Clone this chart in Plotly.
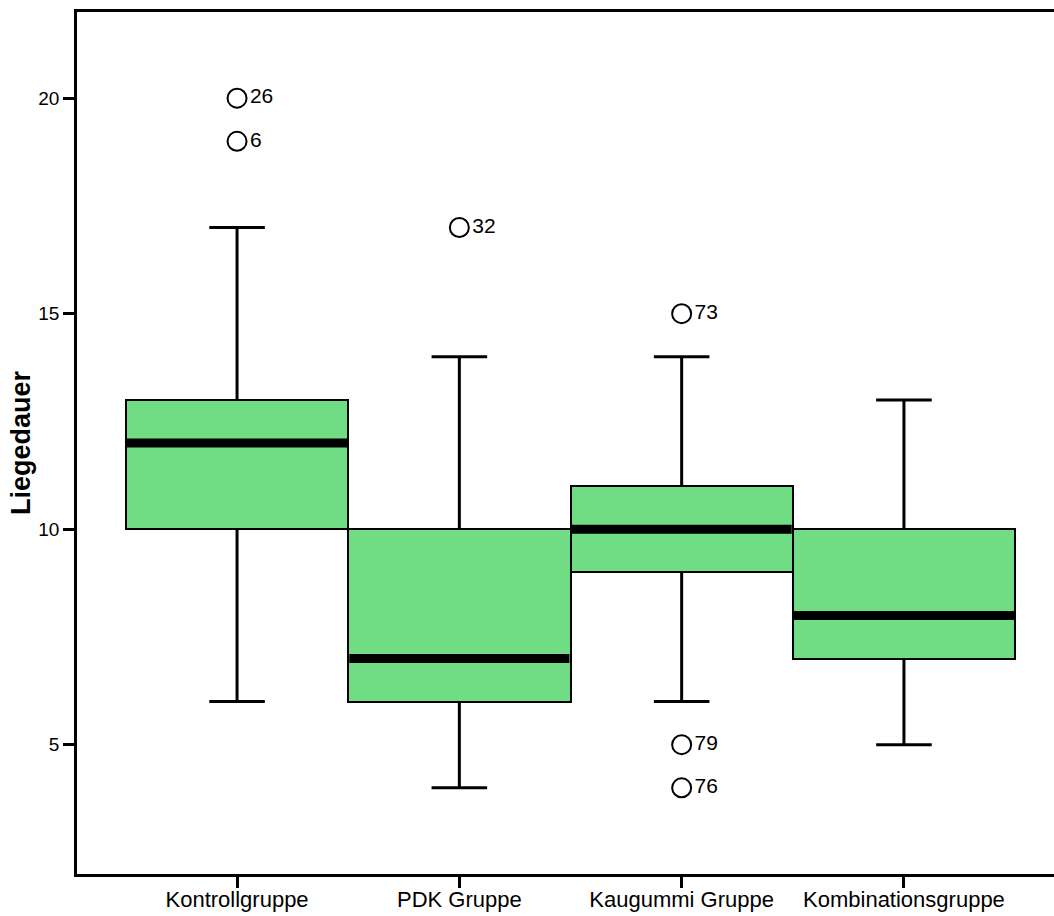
import plotly.graph_objects as go

# Box plot summary of Liegedauer per group
groups = ["Kontrollgruppe", "PDK Gruppe", "Kaugummi Gruppe", "Kombinationsgruppe"]
q1 = [10, 6, 9, 7]
median = [12, 7, 10, 8]
q3 = [13, 10, 11, 10]
whisker_low = [6, 4, 6, 5]
whisker_high = [17, 14, 14, 13]

# Outliers: group index, value, case number
outlier_group = [0, 0, 1, 2, 2, 2]
outlier_value = [20, 19, 17, 15, 5, 4]
outlier_case = ["26", "6", "32", "73", "79", "76"]

pos = list(range(len(groups)))
BOX_W = 1.0
CAP_HALF = 0.125
FILL = "rgb(112,220,132)"
FONT = "Liberation Sans, Arial, sans-serif"

fig = go.Figure()

# Whisker stems and caps
wx, wy = [], []
for i in pos:
    wx += [i, i, None, i, i, None]
    wy += [q3[i], whisker_high[i], None, q1[i], whisker_low[i], None]
    wx += [i - CAP_HALF, i + CAP_HALF, None, i - CAP_HALF, i + CAP_HALF, None]
    wy += [whisker_high[i], whisker_high[i], None, whisker_low[i], whisker_low[i], None]
fig.add_trace(go.Scatter(x=wx, y=wy, mode="lines",
                         line=dict(color="black", width=3), hoverinfo="skip"))

# Interquartile boxes
fig.add_trace(go.Bar(
    x=pos, y=[b - a for a, b in zip(q1, q3)], base=q1, width=BOX_W,
    marker=dict(color=FILL, line=dict(color="black", width=2)),
    hoverinfo="skip",
))

# Median bars
mx, my = [], []
for i in pos:
    mx += [i - BOX_W / 2 + 0.005, i + BOX_W / 2 - 0.005, None]
    my += [median[i], median[i], None]
fig.add_trace(go.Scatter(x=mx, y=my, mode="lines",
                         line=dict(color="black", width=9), hoverinfo="skip"))

# Outliers with case labels
fig.add_trace(go.Scatter(
    x=outlier_group, y=outlier_value, mode="markers+text",
    text=outlier_case, textposition="middle right",
    textfont=dict(family=FONT, size=21, color="black"),
    marker=dict(symbol="circle-open", size=19, color="black", line=dict(width=2)),
    hoverinfo="skip",
))

fig.update_layout(
    width=1054, height=916,
    margin=dict(l=77, r=0, t=12, b=42),
    paper_bgcolor="white", plot_bgcolor="white",
    showlegend=False, bargap=0,
    font=dict(family=FONT, color="black"),
)
fig.update_xaxes(
    range=[-0.72, 3.675], tickvals=pos, ticktext=groups,
    showline=True, linecolor="black", linewidth=2.5, mirror=True,
    ticks="outside", ticklen=11, tickwidth=2.5, tickcolor="black",
    tickfont=dict(family=FONT, size=22), ticklabelstandoff=-7,
    showgrid=False, zeroline=False,
)
fig.update_yaxes(
    range=[2.0, 22.0], tickvals=[5, 10, 15, 20],
    showline=True, linecolor="black", linewidth=2.5,
    ticks="outside", ticklen=11, tickwidth=2.5, tickcolor="black",
    tickfont=dict(family=FONT, size=19), showgrid=False, zeroline=False,
    title=dict(text="<b>Liegedauer</b>", font=dict(family=FONT, size=27), standoff=0),
)

fig.write_html("out.html")
